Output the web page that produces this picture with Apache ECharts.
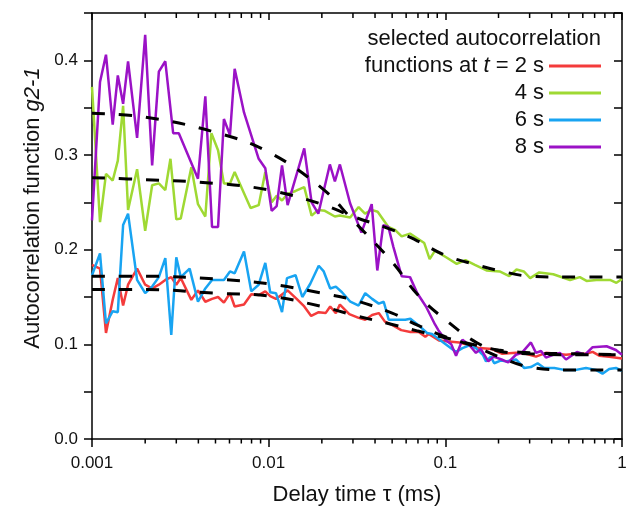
<!DOCTYPE html>
<html>
<head>
<meta charset="utf-8">
<script src="https://cdn.jsdelivr.net/npm/echarts@6/dist/echarts.min.js"></script>
<style>
  html, body { margin: 0; padding: 0; background: #fff; }
  #chart { width: 627px; height: 509px; }
</style>
</head>
<body>
<div id="chart"></div>
<script>
// measured autocorrelation curves, [delay time (ms), g2-1]
const red2s = [
  [0.00100, 0.184], [0.00111, 0.180], [0.00120, 0.112], [0.00131, 0.147], [0.00140, 0.170], [0.00150, 0.141],
  [0.00160, 0.163], [0.00180, 0.180], [0.00200, 0.163], [0.00219, 0.159], [0.00239, 0.163], [0.00260, 0.168],
  [0.00281, 0.171], [0.00300, 0.163], [0.00318, 0.170], [0.00365, 0.147], [0.00398, 0.157], [0.00438, 0.145],
  [0.00478, 0.148], [0.00517, 0.150], [0.00558, 0.144], [0.00604, 0.154], [0.00642, 0.140], [0.00725, 0.142],
  [0.00797, 0.153], [0.00878, 0.152], [0.00957, 0.156], [0.0102, 0.151], [0.0110, 0.148], [0.0128, 0.157],
  [0.0144, 0.148], [0.0159, 0.140], [0.0174, 0.130], [0.0192, 0.134], [0.0210, 0.133], [0.0223, 0.140],
  [0.0240, 0.133], [0.0253, 0.142], [0.0286, 0.132], [0.0323, 0.128], [0.0352, 0.126], [0.0385, 0.131],
  [0.0420, 0.133], [0.0455, 0.124], [0.0505, 0.120], [0.0563, 0.115], [0.0634, 0.113], [0.0707, 0.113],
  [0.0770, 0.108], [0.0805, 0.111], [0.0920, 0.104], [0.105, 0.103], [0.120, 0.102], [0.137, 0.099],
  [0.155, 0.096], [0.184, 0.095], [0.210, 0.090], [0.251, 0.091], [0.286, 0.090], [0.326, 0.087],
  [0.371, 0.091], [0.423, 0.090], [0.482, 0.089], [0.549, 0.090], [0.625, 0.090], [0.682, 0.092],
  [0.743, 0.088], [0.847, 0.087], [1.0, 0.085]
]
const green4s = [
  [0.00100, 0.372], [0.00111, 0.229], [0.00120, 0.280], [0.00131, 0.273], [0.00140, 0.294], [0.00150, 0.352],
  [0.00160, 0.242], [0.00180, 0.285], [0.00200, 0.220], [0.00219, 0.268], [0.00239, 0.270], [0.00260, 0.263],
  [0.00278, 0.296], [0.00300, 0.232], [0.00318, 0.233], [0.00365, 0.287], [0.00398, 0.248], [0.00438, 0.235],
  [0.00474, 0.323], [0.00517, 0.305], [0.00558, 0.270], [0.00604, 0.270], [0.00642, 0.282], [0.00720, 0.261],
  [0.00790, 0.244], [0.00878, 0.247], [0.00957, 0.282], [0.0104, 0.250], [0.0111, 0.257], [0.0119, 0.252],
  [0.0128, 0.259], [0.0142, 0.262], [0.0159, 0.266], [0.0175, 0.236], [0.0191, 0.242], [0.0208, 0.241],
  [0.0237, 0.235], [0.0253, 0.236], [0.0289, 0.234], [0.0323, 0.245], [0.0351, 0.238], [0.0383, 0.242],
  [0.0414, 0.240], [0.0476, 0.224], [0.0519, 0.221], [0.0566, 0.214], [0.0631, 0.217], [0.0760, 0.207],
  [0.0815, 0.190], [0.0874, 0.199], [0.101, 0.192], [0.116, 0.185], [0.130, 0.189], [0.147, 0.184],
  [0.171, 0.178], [0.203, 0.177], [0.230, 0.172], [0.253, 0.179], [0.278, 0.177], [0.302, 0.170],
  [0.340, 0.176], [0.408, 0.174], [0.508, 0.168], [0.577, 0.171], [0.630, 0.167], [0.715, 0.168],
  [0.855, 0.168], [0.930, 0.165], [1.0, 0.169]
]
const blue6s = [
  [0.00100, 0.173], [0.00111, 0.196], [0.00120, 0.122], [0.00131, 0.135], [0.00140, 0.134], [0.00150, 0.226],
  [0.00160, 0.238], [0.00180, 0.168], [0.00200, 0.154], [0.00219, 0.161], [0.00239, 0.171], [0.00260, 0.191],
  [0.00281, 0.110], [0.00300, 0.192], [0.00318, 0.171], [0.00357, 0.180], [0.00398, 0.145], [0.00438, 0.159],
  [0.00478, 0.168], [0.00517, 0.168], [0.00558, 0.168], [0.00604, 0.177], [0.00642, 0.175], [0.00725, 0.198],
  [0.00797, 0.156], [0.00878, 0.163], [0.00957, 0.186], [0.0102, 0.155], [0.0110, 0.154], [0.0119, 0.134],
  [0.0127, 0.170], [0.0142, 0.173], [0.0155, 0.150], [0.0172, 0.164], [0.0192, 0.183], [0.0205, 0.177],
  [0.0223, 0.159], [0.0240, 0.161], [0.0260, 0.155], [0.0290, 0.145], [0.0323, 0.141], [0.0352, 0.154],
  [0.0385, 0.148], [0.0420, 0.143], [0.0448, 0.145], [0.0478, 0.126], [0.0521, 0.126], [0.0593, 0.126],
  [0.0634, 0.127], [0.0707, 0.120], [0.0788, 0.112], [0.0841, 0.111], [0.0957, 0.103], [0.115, 0.092],
  [0.125, 0.096], [0.137, 0.099], [0.149, 0.096], [0.163, 0.089], [0.170, 0.082], [0.181, 0.087],
  [0.189, 0.080], [0.207, 0.083], [0.220, 0.082], [0.251, 0.084], [0.280, 0.075], [0.305, 0.076],
  [0.333, 0.080], [0.363, 0.075], [0.414, 0.075], [0.472, 0.073], [0.549, 0.073], [0.625, 0.075],
  [0.711, 0.073], [0.776, 0.069], [0.846, 0.074], [0.924, 0.075], [1.0, 0.072]
]
const purple8s = [
  [0.00100, 0.231], [0.00111, 0.377], [0.00120, 0.406], [0.00131, 0.332], [0.00140, 0.384], [0.00150, 0.354],
  [0.00160, 0.399], [0.00180, 0.318], [0.00200, 0.427], [0.00219, 0.289], [0.00239, 0.388], [0.00260, 0.399],
  [0.00288, 0.323], [0.00310, 0.323], [0.00398, 0.275], [0.00438, 0.362], [0.00478, 0.224], [0.00517, 0.224],
  [0.00558, 0.338], [0.00604, 0.321], [0.00642, 0.391], [0.00725, 0.345], [0.00878, 0.296], [0.00957, 0.286],
  [0.0104, 0.241], [0.0111, 0.246], [0.0119, 0.289], [0.0128, 0.247], [0.0159, 0.307], [0.0175, 0.250],
  [0.0191, 0.238], [0.0222, 0.290], [0.0237, 0.272], [0.0253, 0.290], [0.0289, 0.249], [0.0335, 0.218],
  [0.0383, 0.248], [0.0412, 0.178], [0.0445, 0.226], [0.0476, 0.224], [0.0508, 0.203], [0.0566, 0.172],
  [0.0631, 0.171], [0.0694, 0.154], [0.0777, 0.140], [0.0874, 0.121], [0.0913, 0.115], [0.101, 0.104],
  [0.108, 0.100], [0.115, 0.088], [0.125, 0.105], [0.137, 0.099], [0.149, 0.091], [0.159, 0.095],
  [0.175, 0.082], [0.188, 0.087], [0.208, 0.084], [0.227, 0.081], [0.251, 0.089], [0.271, 0.091],
  [0.305, 0.102], [0.326, 0.091], [0.348, 0.093], [0.371, 0.086], [0.408, 0.089], [0.445, 0.091],
  [0.482, 0.084], [0.556, 0.092], [0.617, 0.089], [0.682, 0.097], [0.818, 0.098], [0.924, 0.094],
  [1.0, 0.089]
]

// fitted curves (dashed), read at these delay times
const fitTau = [0.001, 0.002, 0.005, 0.01, 0.02, 0.03, 0.05, 0.07, 0.1, 0.15, 0.2, 0.3, 0.5, 1]
const fit2s = [0.158, 0.158, 0.154, 0.151, 0.140, 0.131, 0.121, 0.114, 0.107, 0.099, 0.094, 0.091, 0.090, 0.089]
const fit4s = [0.276, 0.274, 0.270, 0.263, 0.248, 0.235, 0.221, 0.209, 0.194, 0.184, 0.178, 0.172, 0.171, 0.171]
const fit6s = [0.172, 0.172, 0.169, 0.164, 0.154, 0.147, 0.133, 0.120, 0.108, 0.097, 0.087, 0.076, 0.073, 0.073]
const fit8s = [0.344, 0.340, 0.324, 0.303, 0.265, 0.231, 0.187, 0.152, 0.126, 0.102, 0.093, 0.090, 0.089, 0.089]

// minor ticks of the log axis
const minorTicks = [
  0.002, 0.003, 0.004, 0.005, 0.006, 0.007, 0.008, 0.009,
  0.02, 0.03, 0.04, 0.05, 0.06, 0.07, 0.08, 0.09,
  0.2, 0.3, 0.4, 0.5, 0.6, 0.7, 0.8, 0.9
]

const seriesNames = ['2 s', '4 s', '6 s', '8 s']
const seriesColors = ['#f43b3b', '#9fd933', '#18a4f2', '#9b12c6']
const seriesData = [red2s, green4s, blue6s, purple8s]
const fitData = [fit2s, fit4s, fit6s, fit8s]

const FONT = 'Liberation Sans, Arial, sans-serif'
const black = '#000'
const yMax = 0.45

const chart = echarts.init(document.getElementById('chart'))

const lineSeries = seriesData.map((d, i) => ({
  name: seriesNames[i],
  type: 'line',
  data: d,
  symbol: 'none',
  color: seriesColors[i],
  lineStyle: { width: 2.5, color: seriesColors[i] },
  z: 2,
  animation: false
}))

const fitSeries = fitData.map((f) => ({
  type: 'line',
  data: fitTau.map((t, k) => [t, f[k]]),
  symbol: 'none',
  smooth: 0.4,
  lineStyle: { width: 3, color: black, type: [13, 14] },
  z: 4,
  silent: true,
  animation: false
}))

// short minor ticks: outward on the bottom axis, inward on the top one
const minorTickSeries = {
  type: 'custom',
  data: minorTicks.map((v) => [v, 0]),
  silent: true,
  clip: false,
  z: 5,
  animation: false,
  renderItem: (params, api) => {
    const b = api.coord([api.value(0), 0])
    const t = api.coord([api.value(0), yMax])
    const st = { stroke: black, lineWidth: 1.5 }
    return {
      type: 'group',
      children: [
        { type: 'line', shape: { x1: b[0], y1: b[1], x2: b[0], y2: b[1] + 4.5 }, style: st },
        { type: 'line', shape: { x1: t[0], y1: t[1], x2: t[0], y2: t[1] + 5 }, style: st }
      ]
    }
  }
}

const legends = seriesNames.map((n, i) => ({
  data: [n],
  right: 26,
  top: 55 + i * 27,
  padding: 0,
  align: 'right',
  icon: 'rect',
  itemWidth: 52,
  itemHeight: 3,
  selectedMode: false,
  textStyle: {
    fontFamily: FONT,
    fontSize: 22,
    color: '#111',
    rich: { it: { fontFamily: FONT, fontSize: 22, fontStyle: 'italic', color: '#111' } }
  },
  formatter: (name) => i === 0 ? 'functions at {it|t} = ' + name : name
}))

const logAxisBase = {
  type: 'log',
  logBase: 10,
  min: 0.001,
  max: 1,
  splitLine: { show: false },
  minorTick: { show: false },
  axisLine: { show: true, onZero: false, lineStyle: { color: black, width: 1.5 } }
}

chart.setOption({
  backgroundColor: '#fff',
  animation: false,
  title: {
    text: 'selected autocorrelation',
    right: 26,
    top: 28,
    padding: 0,
    textStyle: { fontFamily: FONT, fontSize: 22, fontWeight: 'normal', color: '#111' }
  },
  legend: legends,
  grid: { left: 92, right: 5, top: 13, bottom: 70, outerBoundsMode: 'none' },
  xAxis: [
    Object.assign({}, logAxisBase, {
      position: 'bottom',
      axisTick: { show: true, inside: false, length: 8, lineStyle: { color: black, width: 1.5 } },
      axisLabel: {
        fontFamily: FONT, fontSize: 17, color: '#111', margin: 16,
        formatter: (v) => String(Number(v.toPrecision(1)))
      },
      name: 'Delay time \u03c4 (ms)',
      nameLocation: 'middle',
      nameGap: 45,
      nameTextStyle: { fontFamily: FONT, fontSize: 22, color: '#111' }
    }),
    Object.assign({}, logAxisBase, {
      position: 'top',
      axisTick: { show: true, inside: true, length: 7, lineStyle: { color: black, width: 1.5 } },
      axisLabel: { show: false }
    })
  ],
  yAxis: [
    {
      type: 'value',
      min: 0,
      max: yMax,
      interval: 0.05,
      position: 'left',
      splitLine: { show: false },
      axisLine: { show: true, onZero: false, lineStyle: { color: black, width: 1.5 } },
      axisTick: { show: true, inside: false, length: 8, lineStyle: { color: black, width: 1.5 } },
      axisLabel: {
        fontFamily: FONT, fontSize: 17, color: '#111', margin: 14,
        formatter: (v) => {
          const k = Math.round(v * 100)
          return k % 10 === 0 ? (k / 100).toFixed(1) : ''
        }
      },
      name: 'Autocorrelation function {it|g2-1}',
      nameLocation: 'middle',
      nameGap: 46,
      nameTextStyle: {
        fontFamily: FONT, fontSize: 22, color: '#111', padding: [0, 0, 0, 36],
        rich: { it: { fontFamily: FONT, fontSize: 22, fontStyle: 'italic', color: '#111' } }
      }
    },
    {
      type: 'value',
      min: 0,
      max: yMax,
      interval: 0.05,
      position: 'right',
      splitLine: { show: false },
      axisLine: { show: true, onZero: false, lineStyle: { color: black, width: 1.5 } },
      axisTick: { show: true, inside: true, length: 8, lineStyle: { color: black, width: 1.5 } },
      axisLabel: { show: false }
    }
  ],
  series: lineSeries.concat(fitSeries, [minorTickSeries])
})
</script>
</body>
</html>
